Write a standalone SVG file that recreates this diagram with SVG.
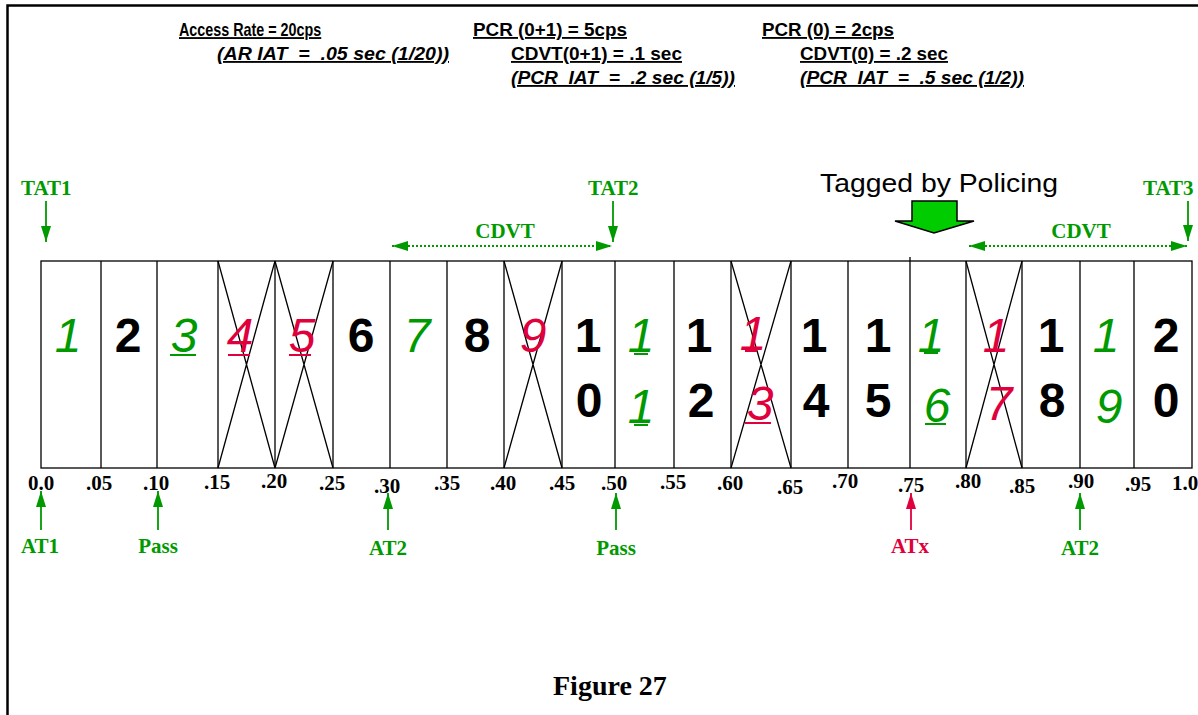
<svg xmlns="http://www.w3.org/2000/svg" width="1198" height="715" viewBox="0 0 1198 715">
<defs>
<style>
.hd{font-family:"Liberation Sans",Arial,sans-serif;font-weight:bold;font-size:18.5px;fill:#000;text-decoration:underline;white-space:pre}
.hdi{font-style:italic}
.tm{font-family:"Liberation Serif","Times New Roman",serif;font-weight:bold;font-size:21px}
.g{fill:#009a00}
.r{fill:#e0003c}
.k{fill:#000}
.bd{font-family:"Liberation Sans",Arial,sans-serif;font-weight:bold;font-size:48px;fill:#000;text-anchor:middle}
.it{font-family:"Liberation Sans",Arial,sans-serif;font-style:italic;font-size:48px;text-anchor:middle}
.cell{fill:none;stroke:#000;stroke-width:1.3}
.xl{stroke:#000;stroke-width:1.3}
.ul-g{stroke:#009a00;stroke-width:2}
.ul-r{stroke:#e0003c;stroke-width:2}
.ga{stroke:#009a00;stroke-width:1.8;fill:none}
.ra{stroke:#e0003c;stroke-width:1.8;fill:none}
.dot{stroke:#009a00;stroke-width:1.8;stroke-dasharray:2,2;fill:none}
.mid{text-anchor:middle}
</style>
<marker id="ahg" viewBox="0 0 16 10" refX="16" refY="5" markerWidth="16" markerHeight="10" markerUnits="userSpaceOnUse" orient="auto-start-reverse"><path d="M0,0 L16,5 L0,10 Z" fill="#009a00"/></marker>
<marker id="ahr" viewBox="0 0 16 10" refX="16" refY="5" markerWidth="16" markerHeight="10" markerUnits="userSpaceOnUse" orient="auto-start-reverse"><path d="M0,0 L16,5 L0,10 Z" fill="#e0003c"/></marker>
</defs>
<rect width="1198" height="715" fill="#fff"/>
<path d="M7.5,715 V5.5 H1198" fill="none" stroke="#000" stroke-width="2.5"/>

<g id="header">
<text class="hd" transform="translate(179,36) scale(0.775,1)" x="0" y="0">Access Rate = 20cps</text>
<text class="hd hdi" x="217" y="60" textLength="232" lengthAdjust="spacingAndGlyphs">(AR IAT  =  .05 sec (1/20))</text>
<text class="hd" x="473" y="36" textLength="154" lengthAdjust="spacingAndGlyphs">PCR (0+1) = 5cps</text>
<text class="hd" x="511" y="60" textLength="171" lengthAdjust="spacingAndGlyphs">CDVT(0+1) = .1 sec</text>
<text class="hd hdi" x="511" y="84" textLength="224" lengthAdjust="spacingAndGlyphs">(PCR  IAT  =  .2 sec (1/5))</text>
<text class="hd" x="762" y="36" textLength="132" lengthAdjust="spacingAndGlyphs">PCR (0) = 2cps</text>
<text class="hd" x="800" y="60" textLength="148" lengthAdjust="spacingAndGlyphs">CDVT(0) = .2 sec</text>
<text class="hd hdi" x="800" y="84" textLength="224" lengthAdjust="spacingAndGlyphs">(PCR  IAT  =  .5 sec (1/2))</text>
</g>

<g id="tagged">
<text x="820" y="192" font-family="'Liberation Sans',Arial,sans-serif" font-size="26" textLength="238" lengthAdjust="spacingAndGlyphs">Tagged by Policing</text>
<polygon points="912,201 957,201 957,221 974,221 934,233 895,221 912,221" fill="#00cc00" stroke="#000" stroke-width="1.5"/>
</g>

<g id="cells">
<rect class="cell" x="41" y="261" width="1151" height="207"/>
<path class="cell" d="M101,261V468 M157,261V468 M218,261V468 M275,261V468 M333,261V468 M390,261V468 M447,261V468 M504,261V468 M562,261V468 M615,261V468 M674,261V468 M731,261V468 M791,261V468 M848,261V468 M910,261V468 M966,261V468 M1022,261V468 M1080,261V468 M1134,261V468 M910,257V261"/>
<path class="xl" d="M218,261L275,468 M275,261L218,468 M275,261L333,468 M333,261L275,468 M504,261L562,468 M562,261L504,468 M731,261L791,468 M791,261L731,468 M966,261L1022,468 M1022,261L966,468"/>
</g>

<g id="digits">
<text class="it g" x="68" y="352">1</text>
<text class="bd" x="128" y="352">2</text>
<text class="it g" x="184" y="352">3</text>
<text class="it r" x="240" y="352">4</text>
<text class="it r" x="302" y="352">5</text>
<text class="bd" x="361" y="352">6</text>
<text class="it g" x="417" y="352">7</text>
<text class="bd" x="477" y="352">8</text>
<text class="it r" x="533" y="352">9</text>
<text class="bd" x="588" y="352">1</text><text class="bd" x="589" y="417">0</text>
<text class="it g" x="641" y="352">1</text><text class="it g" x="641" y="423">1</text>
<text class="bd" x="699" y="352">1</text><text class="bd" x="701" y="417">2</text>
<text class="it r" x="753" y="350">1</text><text class="it r" x="760" y="420">3</text>
<text class="bd" x="814" y="352">1</text><text class="bd" x="816" y="417">4</text>
<text class="bd" x="878" y="352">1</text><text class="bd" x="878" y="417">5</text>
<text class="it g" x="931" y="352">1</text><text class="it g" x="937" y="422">6</text>
<text class="it r" x="996" y="352">1</text><text class="it r" x="999" y="420">7</text>
<text class="bd" x="1051" y="352">1</text><text class="bd" x="1052" y="417">8</text>
<text class="it g" x="1106" y="352">1</text><text class="it g" x="1109" y="423">9</text>
<text class="bd" x="1166" y="352">2</text><text class="bd" x="1166" y="417">0</text>
<path class="ul-g" d="M170,355H196 M634,354H648 M634,425H648 M924,353H938 M925,424H946"/>
<path class="ul-r" d="M228,355H250 M289,355H311 M745,351H757 M745,423H771"/>
</g>

<g id="top-labels">
<text class="tm g" x="21" y="195">TAT1</text>
<text class="tm g" x="588" y="195">TAT2</text>
<text class="tm g" x="1143" y="195">TAT3</text>
<text class="tm g mid" x="505" y="238">CDVT</text>
<text class="tm g mid" x="1081" y="238">CDVT</text>
</g>

<g id="connectors">
<line class="ga" x1="46" y1="201" x2="46" y2="242" marker-end="url(#ahg)"/>
<line class="ga" x1="613" y1="201" x2="613" y2="242" marker-end="url(#ahg)"/>
<line class="ga" x1="1188" y1="201" x2="1188" y2="241" marker-end="url(#ahg)"/>
<line class="dot" x1="392" y1="246" x2="612" y2="246" marker-start="url(#ahg)" marker-end="url(#ahg)"/>
<line class="dot" x1="969" y1="246" x2="1187" y2="246" marker-start="url(#ahg)" marker-end="url(#ahg)"/>
<line class="ga" x1="41" y1="530" x2="41" y2="491" marker-end="url(#ahg)"/>
<line class="ga" x1="158" y1="530" x2="158" y2="491" marker-end="url(#ahg)"/>
<line class="ga" x1="388" y1="530" x2="388" y2="493" marker-end="url(#ahg)"/>
<line class="ga" x1="616" y1="530" x2="616" y2="493" marker-end="url(#ahg)"/>
<line class="ra" x1="911" y1="530" x2="911" y2="493" marker-end="url(#ahr)"/>
<line class="ga" x1="1080" y1="530" x2="1080" y2="493" marker-end="url(#ahg)"/>
</g>

<g id="ticks" class="tm k">
<text class="mid" x="41" y="490">0.0</text>
<text class="mid" x="99" y="490">.05</text>
<text class="mid" x="156" y="490">.10</text>
<text class="mid" x="217" y="489">.15</text>
<text class="mid" x="274" y="488">.20</text>
<text class="mid" x="332" y="490">.25</text>
<text class="mid" x="387" y="493">.30</text>
<text class="mid" x="447" y="490">.35</text>
<text class="mid" x="503" y="490">.40</text>
<text class="mid" x="562" y="490">.45</text>
<text class="mid" x="614" y="490">.50</text>
<text class="mid" x="673" y="489">.55</text>
<text class="mid" x="730" y="490">.60</text>
<text class="mid" x="790" y="494">.65</text>
<text class="mid" x="845" y="488">.70</text>
<text class="mid" x="911" y="492">.75</text>
<text class="mid" x="968" y="488">.80</text>
<text class="mid" x="1022" y="493">.85</text>
<text class="mid" x="1081" y="488">.90</text>
<text class="mid" x="1138" y="491">.95</text>
<text x="1172" y="490">1.0</text>
</g>

<g id="bottom-labels">
<text class="tm g mid" x="40" y="553">AT1</text>
<text class="tm g mid" x="158" y="553">Pass</text>
<text class="tm g mid" x="388" y="555">AT2</text>
<text class="tm g mid" x="616" y="555">Pass</text>
<text class="tm r mid" x="910" y="553">ATx</text>
<text class="tm g mid" x="1080" y="555">AT2</text>
</g>

<g id="caption">
<text class="tm k" x="553" y="695" style="font-size:28px">Figure 27</text>
</g>
</svg>
